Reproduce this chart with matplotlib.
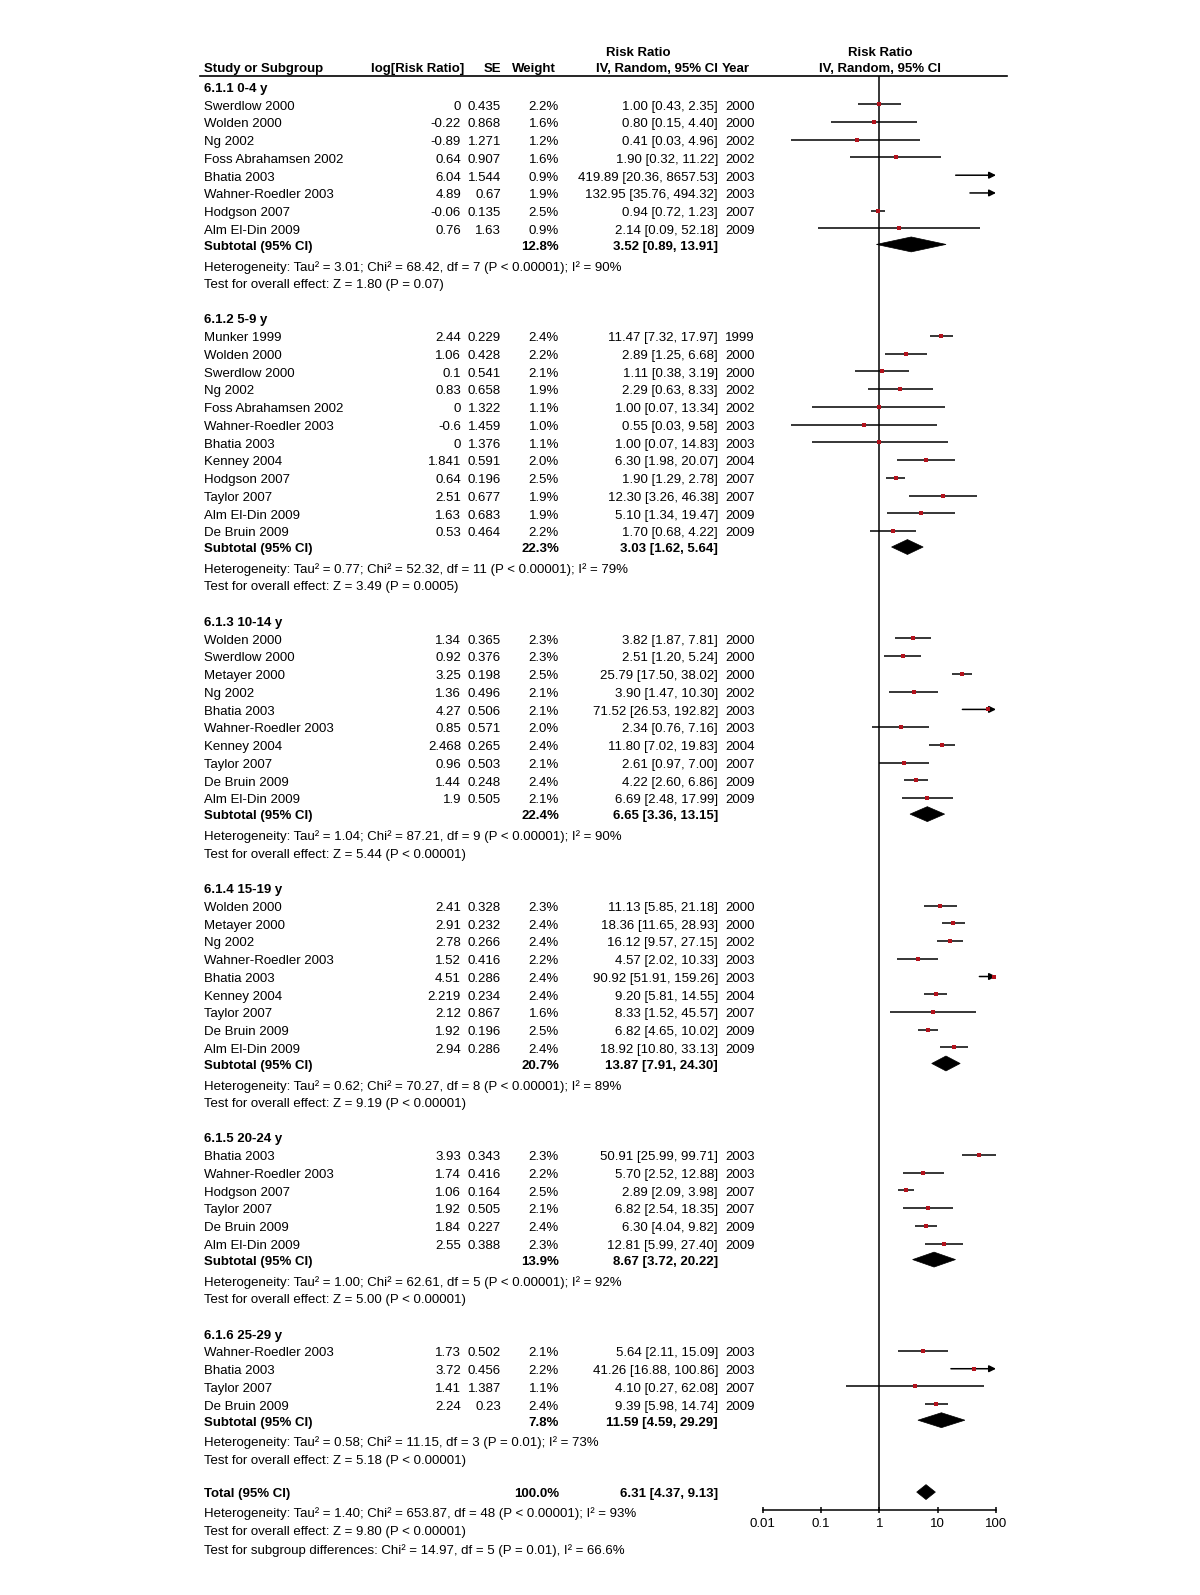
import matplotlib
matplotlib.use("Agg")
import matplotlib.pyplot as plt
from matplotlib.patches import Polygon
from matplotlib.lines import Line2D
from matplotlib.ticker import NullLocator
from matplotlib.transforms import blended_transform_factory

plt.rcParams['font.family'] = ['Liberation Sans', 'DejaVu Sans']

# ---------------- data ----------------
group_labels = ["6.1.1 0-4 y", "6.1.2 5-9 y", "6.1.3 10-14 y",
                "6.1.4 15-19 y", "6.1.5 20-24 y", "6.1.6 25-29 y"]
group_sizes = [8, 12, 10, 9, 6, 4]

study = [
    "Swerdlow 2000", "Wolden 2000", "Ng 2002", "Foss Abrahamsen 2002", "Bhatia 2003",
    "Wahner-Roedler 2003", "Hodgson 2007", "Alm El-Din 2009",
    "Munker 1999", "Wolden 2000", "Swerdlow 2000", "Ng 2002", "Foss Abrahamsen 2002",
    "Wahner-Roedler 2003", "Bhatia 2003", "Kenney 2004", "Hodgson 2007", "Taylor 2007",
    "Alm El-Din 2009", "De Bruin 2009",
    "Wolden 2000", "Swerdlow 2000", "Metayer 2000", "Ng 2002", "Bhatia 2003",
    "Wahner-Roedler 2003", "Kenney 2004", "Taylor 2007", "De Bruin 2009", "Alm El-Din 2009",
    "Wolden 2000", "Metayer 2000", "Ng 2002", "Wahner-Roedler 2003", "Bhatia 2003",
    "Kenney 2004", "Taylor 2007", "De Bruin 2009", "Alm El-Din 2009",
    "Bhatia 2003", "Wahner-Roedler 2003", "Hodgson 2007", "Taylor 2007", "De Bruin 2009",
    "Alm El-Din 2009",
    "Wahner-Roedler 2003", "Bhatia 2003", "Taylor 2007", "De Bruin 2009",
]
log_rr = [
    0, -0.22, -0.89, 0.64, 6.04, 4.89, -0.06, 0.76,
    2.44, 1.06, 0.1, 0.83, 0, -0.6, 0, 1.841, 0.64, 2.51, 1.63, 0.53,
    1.34, 0.92, 3.25, 1.36, 4.27, 0.85, 2.468, 0.96, 1.44, 1.9,
    2.41, 2.91, 2.78, 1.52, 4.51, 2.219, 2.12, 1.92, 2.94,
    3.93, 1.74, 1.06, 1.92, 1.84, 2.55,
    1.73, 3.72, 1.41, 2.24,
]
se = [
    0.435, 0.868, 1.271, 0.907, 1.544, 0.67, 0.135, 1.63,
    0.229, 0.428, 0.541, 0.658, 1.322, 1.459, 1.376, 0.591, 0.196, 0.677, 0.683, 0.464,
    0.365, 0.376, 0.198, 0.496, 0.506, 0.571, 0.265, 0.503, 0.248, 0.505,
    0.328, 0.232, 0.266, 0.416, 0.286, 0.234, 0.867, 0.196, 0.286,
    0.343, 0.416, 0.164, 0.505, 0.227, 0.388,
    0.502, 0.456, 1.387, 0.23,
]
weight = [
    2.2, 1.6, 1.2, 1.6, 0.9, 1.9, 2.5, 0.9,
    2.4, 2.2, 2.1, 1.9, 1.1, 1.0, 1.1, 2.0, 2.5, 1.9, 1.9, 2.2,
    2.3, 2.3, 2.5, 2.1, 2.1, 2.0, 2.4, 2.1, 2.4, 2.1,
    2.3, 2.4, 2.4, 2.2, 2.4, 2.4, 1.6, 2.5, 2.4,
    2.3, 2.2, 2.5, 2.1, 2.4, 2.3,
    2.1, 2.2, 1.1, 2.4,
]
rr = [
    1.00, 0.80, 0.41, 1.90, 419.89, 132.95, 0.94, 2.14,
    11.47, 2.89, 1.11, 2.29, 1.00, 0.55, 1.00, 6.30, 1.90, 12.30, 5.10, 1.70,
    3.82, 2.51, 25.79, 3.90, 71.52, 2.34, 11.80, 2.61, 4.22, 6.69,
    11.13, 18.36, 16.12, 4.57, 90.92, 9.20, 8.33, 6.82, 18.92,
    50.91, 5.70, 2.89, 6.82, 6.30, 12.81,
    5.64, 41.26, 4.10, 9.39,
]
ci_lo = [
    0.43, 0.15, 0.03, 0.32, 20.36, 35.76, 0.72, 0.09,
    7.32, 1.25, 0.38, 0.63, 0.07, 0.03, 0.07, 1.98, 1.29, 3.26, 1.34, 0.68,
    1.87, 1.20, 17.50, 1.47, 26.53, 0.76, 7.02, 0.97, 2.60, 2.48,
    5.85, 11.65, 9.57, 2.02, 51.91, 5.81, 1.52, 4.65, 10.80,
    25.99, 2.52, 2.09, 2.54, 4.04, 5.99,
    2.11, 16.88, 0.27, 5.98,
]
ci_hi = [
    2.35, 4.40, 4.96, 11.22, 8657.53, 494.32, 1.23, 52.18,
    17.97, 6.68, 3.19, 8.33, 13.34, 9.58, 14.83, 20.07, 2.78, 46.38, 19.47, 4.22,
    7.81, 5.24, 38.02, 10.30, 192.82, 7.16, 19.83, 7.00, 6.86, 17.99,
    21.18, 28.93, 27.15, 10.33, 159.26, 14.55, 45.57, 10.02, 33.13,
    99.71, 12.88, 3.98, 18.35, 9.82, 27.40,
    15.09, 100.86, 62.08, 14.74,
]
year = [
    2000, 2000, 2002, 2002, 2003, 2003, 2007, 2009,
    1999, 2000, 2000, 2002, 2002, 2003, 2003, 2004, 2007, 2007, 2009, 2009,
    2000, 2000, 2000, 2002, 2003, 2003, 2004, 2007, 2009, 2009,
    2000, 2000, 2002, 2003, 2003, 2004, 2007, 2009, 2009,
    2003, 2003, 2007, 2007, 2009, 2009,
    2003, 2003, 2007, 2009,
]

sub_weight = [12.8, 22.3, 22.4, 20.7, 13.9, 7.8]
sub_rr = [3.52, 3.03, 6.65, 13.87, 8.67, 11.59]
sub_lo = [0.89, 1.62, 3.36, 7.91, 3.72, 4.59]
sub_hi = [13.91, 5.64, 13.15, 24.30, 20.22, 29.29]
sub_tau2 = ["3.01", "0.77", "1.04", "0.62", "1.00", "0.58"]
sub_chi2 = ["68.42", "52.32", "87.21", "70.27", "62.61", "11.15"]
sub_df = [7, 11, 9, 8, 5, 3]
sub_p = ["< 0.00001", "< 0.00001", "< 0.00001", "< 0.00001", "< 0.00001", "= 0.01"]
sub_i2 = [90, 79, 90, 89, 92, 73]
sub_z = ["1.80", "3.49", "5.44", "9.19", "5.00", "5.18"]
sub_pz = ["= 0.07", "= 0.0005", "< 0.00001", "< 0.00001", "< 0.00001", "< 0.00001"]

total_weight = 100.0
total_rr, total_lo, total_hi = 6.31, 4.37, 9.13
total_het = "Heterogeneity: Tau² = 1.40; Chi² = 653.87, df = 48 (P < 0.00001); I² = 93%"
total_test = "Test for overall effect: Z = 9.80 (P < 0.00001)"
subgroup_test = "Test for subgroup differences: Chi² = 14.97, df = 5 (P = 0.01), I² = 66.6%"

x_ticks = [0.01, 0.1, 1, 10, 100]
x_ticklabels = ["0.01", "0.1", "1", "10", "100"]

# ---------------- layout ----------------
W, H = 1200, 1595
FS = 9.55
fig = plt.figure(figsize=(W / 100, H / 100), dpi=100)
ax_top_px, ax_bot_px = 76, 1510
ax_left_px, ax_right_px = 762.7, 996
ax = fig.add_axes([ax_left_px / W, 1 - ax_bot_px / H,
                   (ax_right_px - ax_left_px) / W, (ax_bot_px - ax_top_px) / H])
ax.patch.set_visible(False)
tr = blended_transform_factory(fig.transFigure, ax.transData)

X_NAME, X_LOG, X_SE, X_W, X_CI, X_YEAR = 204, 461, 501, 559, 718, 725
RED = '#b3121c'
TXT_DY = 0.13


def txt(xpx, yrow, s, ha='left', bold=False):
    ax.text(xpx / W, yrow + TXT_DY, s, transform=tr, ha=ha, va='center', fontsize=FS,
            fontweight='bold' if bold else 'normal', clip_on=False)


def diamond(y, est, lo, hi, h=0.42):
    ax.add_patch(Polygon([[lo, y], [est, y - h], [hi, y], [est, y + h]], closed=True,
                         facecolor='black', edgecolor='black', lw=0.5, zorder=3))


xmin, xmax = x_ticks[0], x_ticks[-1]

y = 0.0
idx = 0
for g, label in enumerate(group_labels):
    if g > 0:
        y += 2.0
    txt(X_NAME, y, label, bold=True)
    for k in range(group_sizes[g]):
        y += 1.0
        i = idx + k
        txt(X_NAME, y, study[i])
        txt(X_LOG, y, f"{log_rr[i]:g}", ha='right')
        txt(X_SE, y, f"{se[i]:g}", ha='right')
        txt(X_W, y, f"{weight[i]:.1f}%", ha='right')
        txt(X_CI, y, f"{rr[i]:.2f} [{ci_lo[i]:.2f}, {ci_hi[i]:.2f}]", ha='right')
        txt(X_YEAR, y, f"{year[i]}")
        if ci_hi[i] > xmax:
            ax.annotate('', xy=(xmax, y), xytext=(max(ci_lo[i], xmin), y),
                        arrowprops=dict(arrowstyle='-|>', color='black', lw=1.1,
                                        mutation_scale=10, shrinkA=0, shrinkB=0),
                        annotation_clip=False)
        else:
            ax.plot([ci_lo[i], ci_hi[i]], [y, y], color='black', lw=1.1,
                    solid_capstyle='butt', zorder=2)
        ax.plot([rr[i]], [y], marker='s', color=RED, ms=2.7, mew=0, zorder=4)
    idx += group_sizes[g]
    y += 0.9
    txt(X_NAME, y, "Subtotal (95% CI)", bold=True)
    txt(X_W, y, f"{sub_weight[g]:.1f}%", ha='right', bold=True)
    txt(X_CI, y, f"{sub_rr[g]:.2f} [{sub_lo[g]:.2f}, {sub_hi[g]:.2f}]", ha='right', bold=True)
    diamond(y, sub_rr[g], sub_lo[g], sub_hi[g])
    y += 1.15
    txt(X_NAME, y, f"Heterogeneity: Tau² = {sub_tau2[g]}; Chi² = {sub_chi2[g]}, "
                   f"df = {sub_df[g]} (P {sub_p[g]}); I² = {sub_i2[g]}%")
    y += 1.0
    txt(X_NAME, y, f"Test for overall effect: Z = {sub_z[g]} (P {sub_pz[g]})")

y += 1.9
y_total = y
txt(X_NAME, y, "Total (95% CI)", bold=True)
txt(X_W, y, f"{total_weight:.1f}%", ha='right', bold=True)
txt(X_CI, y, f"{total_rr:.2f} [{total_lo:.2f}, {total_hi:.2f}]", ha='right', bold=True)
diamond(y, total_rr, total_lo, total_hi)
y += 1.08
txt(X_NAME, y, total_het)
y += 1.03
txt(X_NAME, y, total_test)
y += 1.03
txt(X_NAME, y, subgroup_test)

# header
y_top = -0.59
txt(X_NAME, -1.09, "Study or Subgroup", bold=True)
txt(464, -1.09, "log[Risk Ratio]", ha='right', bold=True)
txt(501, -1.09, "SE", ha='right', bold=True)
txt(556, -1.09, "Weight", ha='right', bold=True)
txt(638, -1.99, "Risk Ratio", ha='center', bold=True)
txt(718, -1.09, "IV, Random, 95% CI", ha='right', bold=True)
txt(722, -1.09, "Year", bold=True)
txt(880, -1.99, "Risk Ratio", ha='center', bold=True)
txt(880, -1.09, "IV, Random, 95% CI", ha='center', bold=True)
fig.add_artist(Line2D([200 / W, 1007 / W], [1 - ax_top_px / H] * 2,
                      transform=fig.transFigure, color='black', lw=1.2))

# axes
ax.set_xscale('log')
ax.set_xlim(xmin, xmax)
ax.set_ylim(y_total + 1.01, y_top)
ax.axvline(1, color='black', lw=1.1, zorder=1)
ax.set_xticks(x_ticks)
ax.set_xticklabels(x_ticklabels)
ax.xaxis.set_minor_locator(NullLocator())
ax.tick_params(axis='x', direction='inout', length=5, width=1.1, labelsize=FS, pad=3)
ax.set_yticks([])
for s in ['left', 'right', 'top']:
    ax.spines[s].set_visible(False)
ax.spines['bottom'].set_linewidth(1.1)

fig.savefig('out.png', dpi=100, facecolor='white')
